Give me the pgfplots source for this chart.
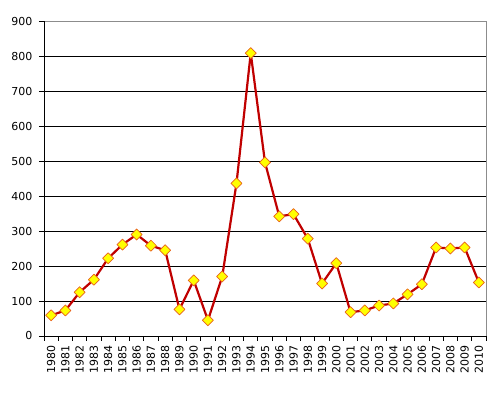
\documentclass[border=0pt]{standalone}
\usepackage{pgfplots}
\pgfplotsset{compat=1.18}
\usepackage{fontspec}
\setmainfont{DejaVu Sans}
\definecolor{linered}{HTML}{C00000}
\definecolor{mkedge}{HTML}{E8601C}
\definecolor{mkfill}{HTML}{FFFF00}
\begin{document}
\begin{tikzpicture}
\useasboundingbox (-44pt,-59pt) rectangle (454pt,336pt);
\begin{axis}[
  scale only axis,
  width=442pt, height=315pt,
  anchor=south west, at={(0pt,0pt)},
  xmin=-0.5, xmax=30.5,
  ymin=0, ymax=900,
  ytick={0,100,...,900},
  xtick={0,...,30},
  xticklabels={1980,1981,1982,1983,1984,1985,1986,1987,1988,1989,1990,1991,1992,1993,1994,1995,1996,1997,1998,1999,2000,2001,2002,2003,2004,2005,2006,2007,2008,2009,2010},
  minor xtick={-0.5,0.5,...,30.5},
  major x tick style={draw=none},
  minor x tick style={black, line width=0.9pt},
  y tick style={black, line width=0.9pt},
  tick align=outside,
  major tick length=5pt,
  minor tick length=5pt,
  xtick pos=bottom,
  ytick pos=left,
  ymajorgrids,
  grid style={black, line width=0.9pt},
  axis line style={draw=none},
  tick label style={font=\fontsize{11}{13}\selectfont},
  yticklabel style={xshift=-3pt},
  xticklabel style={rotate=90, anchor=east, yshift=0pt, xshift=-1pt},
  /pgf/number format/assume math mode=true,
  clip=false,
]
\draw[gray!90, line width=0.9pt] (rel axis cs:0,1) -- (rel axis cs:1,1) -- (rel axis cs:1,0);
\draw[black, line width=0.9pt] (rel axis cs:0,1) -- (rel axis cs:0,0) -- (rel axis cs:1,0);
\addplot[linered, line width=2.2pt, line join=round, mark=square*, mark size=3.9pt,
  mark options={fill=mkfill, draw=mkedge, line width=0.7pt, rotate=45}]
  coordinates {
  (0,59) (1,73) (2,125) (3,161) (4,222) (5,261) (6,290) (7,258) (8,245) (9,76)
  (10,159) (11,45) (12,170) (13,436) (14,808) (15,496) (16,342) (17,348) (18,278) (19,150)
  (20,208) (21,68) (22,73) (23,87) (24,93) (25,119) (26,148) (27,253) (28,250) (29,253)
  (30,153)
  };
\end{axis}
\end{tikzpicture}
\end{document}
